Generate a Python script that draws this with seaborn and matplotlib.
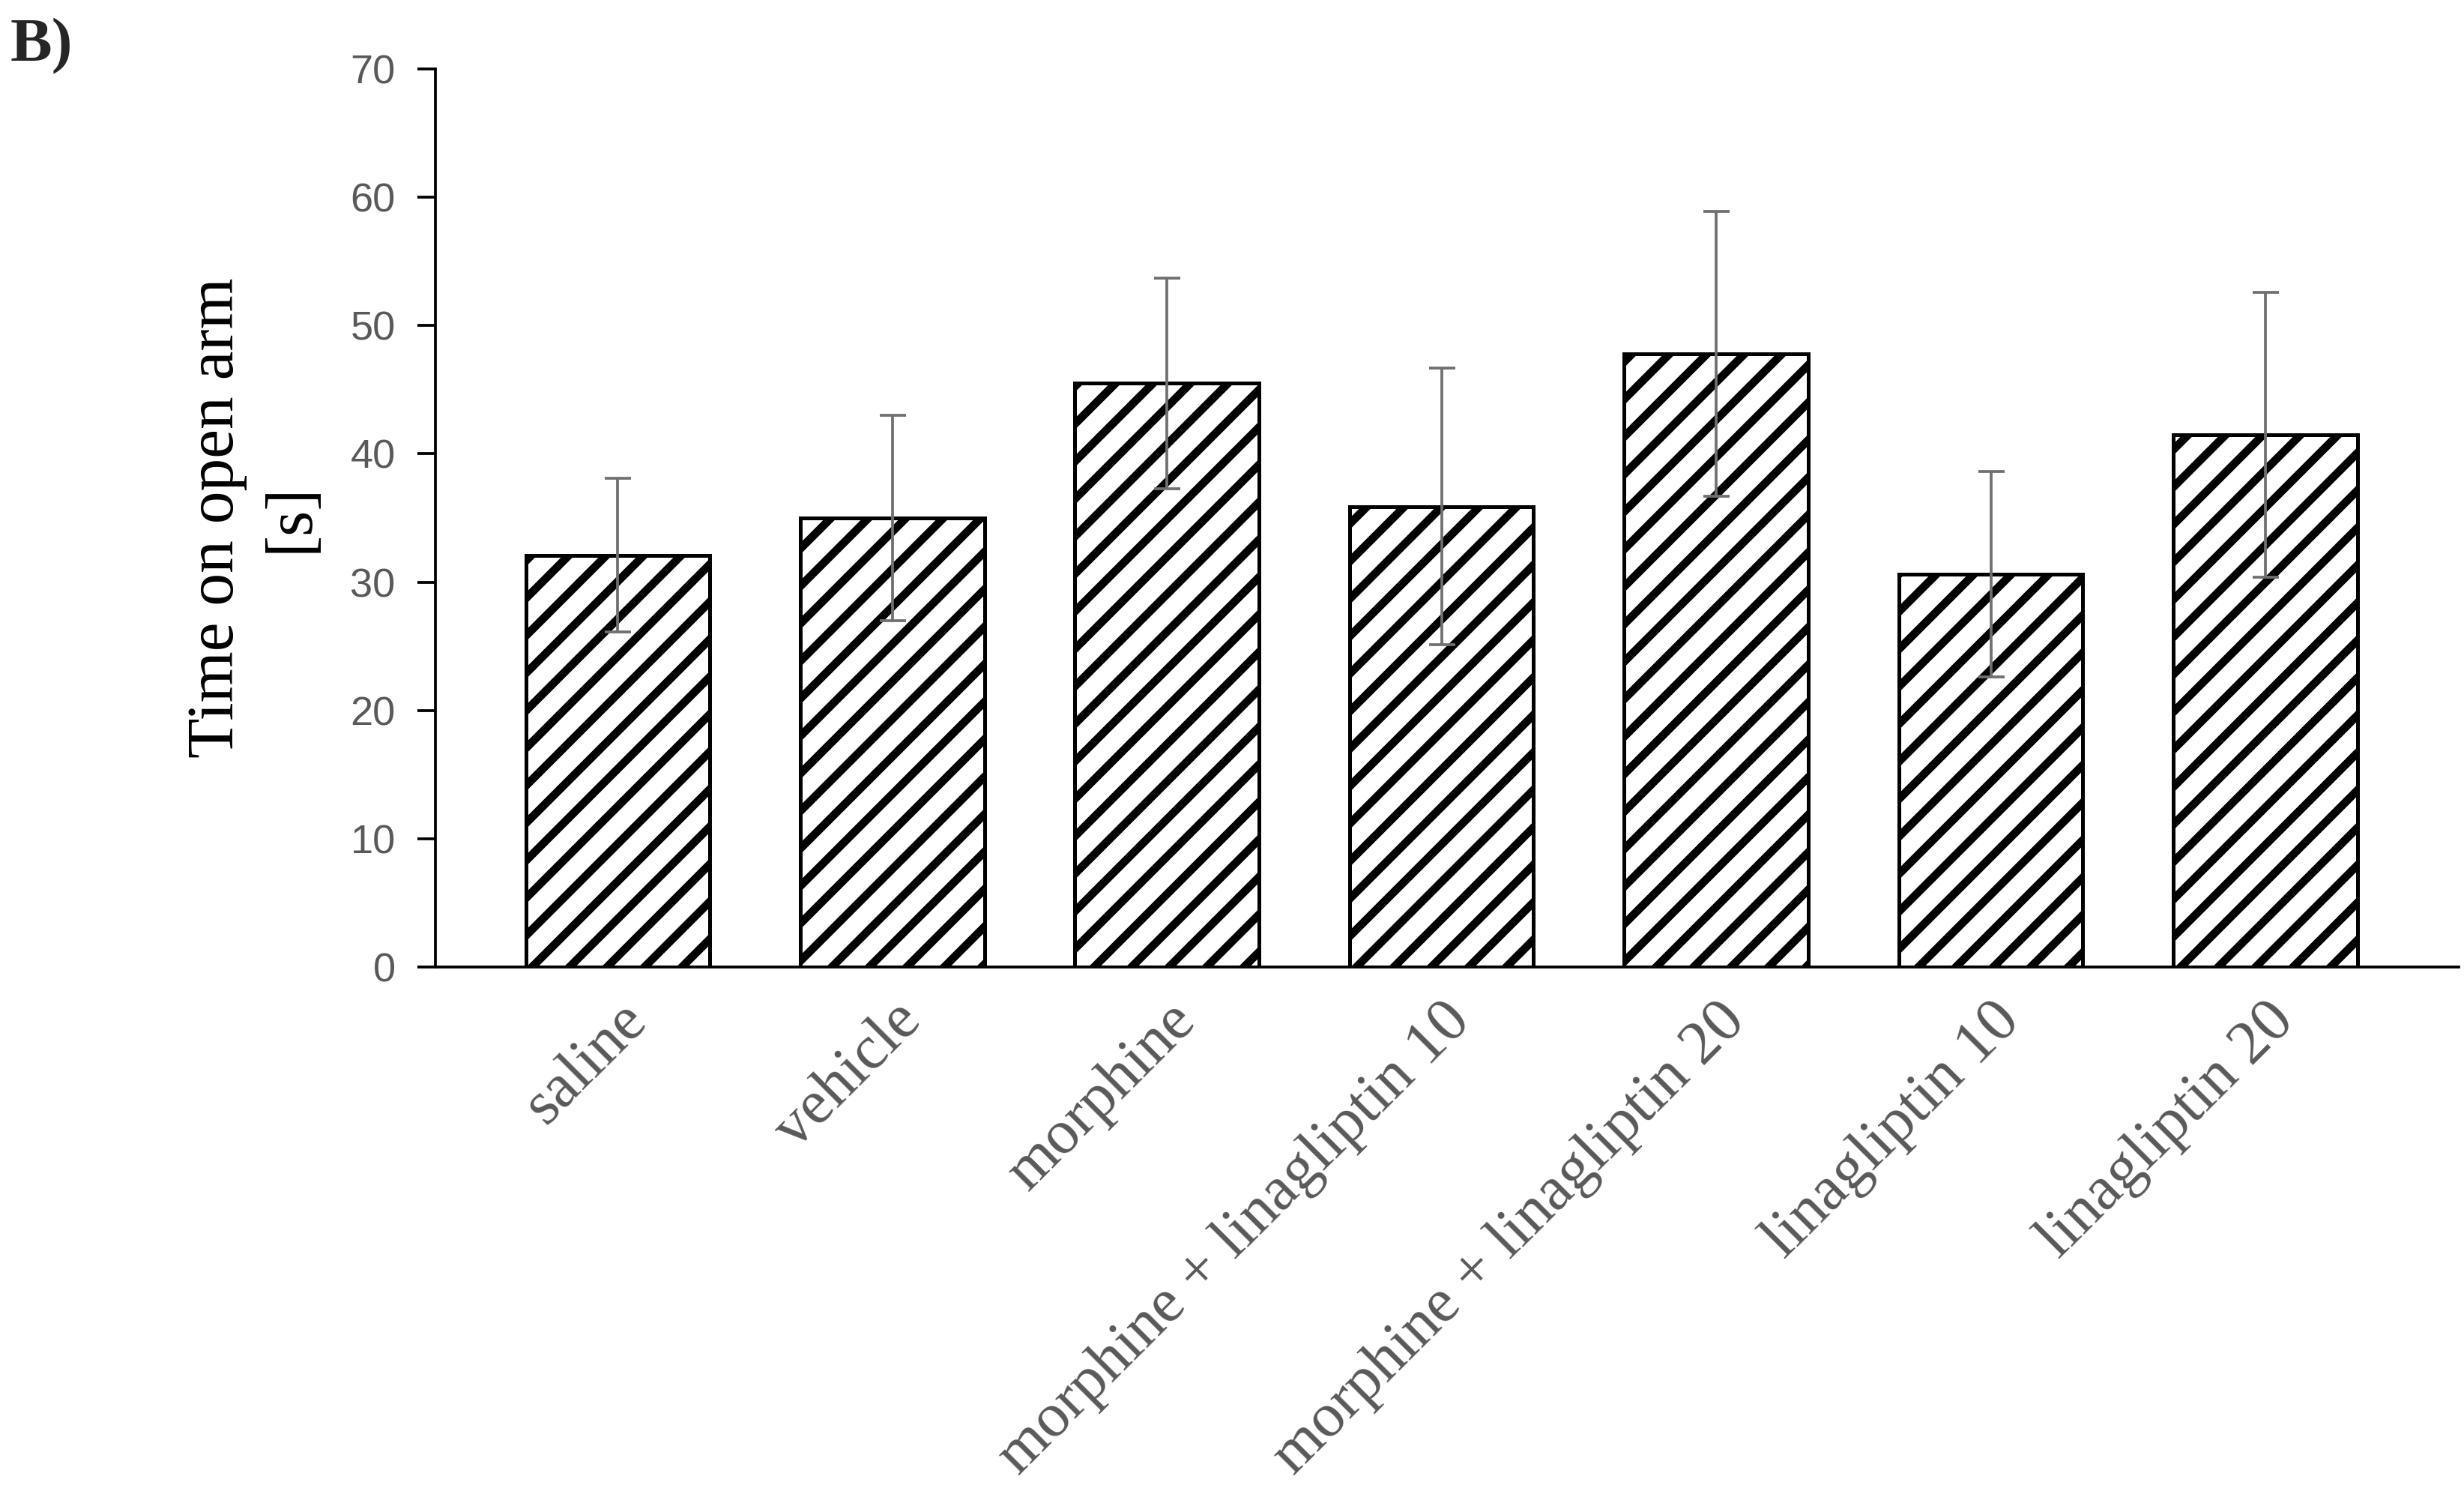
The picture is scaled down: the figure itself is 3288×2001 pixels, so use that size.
## Bar chart: time on open arm per treatment group, hatched bars with SD error bars
import matplotlib
matplotlib.use("Agg")
import matplotlib.pyplot as plt
import seaborn as sns
import pandas as pd

## Values
groups = ["saline", "vehicle", "morphine", "morphine + linagliptin 10",
          "morphine + linagliptin 20", "linagliptin 10", "linagliptin 20"]
means = [32.1, 35.0, 45.5, 35.9, 47.8, 30.6, 41.5]
errors = [6.0, 8.0, 8.2, 10.8, 11.1, 8.0, 11.1]
y_ticks = [0, 10, 20, 30, 40, 50, 60, 70]

sns.set_style("ticks")
plt.rcParams["hatch.linewidth"] = 2.6
plt.rcParams["hatch.color"] = "#1f1f1f"

df = pd.DataFrame({"group": groups, "time": means})

fig = plt.figure(figsize=(10.96, 6.67), dpi=300)
ax = fig.add_axes([0.1767, 0.3553, 0.8213, 0.5987])

sns.barplot(data=df, x="group", y="time", color="white", saturation=1,
            edgecolor="black", linewidth=1.2, hatch="//", width=0.67,
            errorbar=None, ax=ax)
# error bars drawn on top of the bars (lower whisker visible through hatch)
ax.errorbar(range(len(groups)), means, yerr=errors, fmt="none",
            ecolor="#707070", elinewidth=0.9, capsize=4.2, capthick=0.9, zorder=5)

ax.set_ylim(0, 70)
ax.set_yticks(y_ticks)
ax.set_xlim(-0.664, 6.705)
sns.despine(ax=ax)
for s in ["left", "bottom"]:
    ax.spines[s].set_linewidth(0.9)
    ax.spines[s].set_color("black")

ax.tick_params(axis="y", length=5.8, width=0.9, color="black", pad=7,
               labelsize=13, labelcolor="#595959")
ax.tick_params(axis="x", length=0, pad=8)
for lbl in ax.get_yticklabels():
    lbl.set_family("Liberation Sans")
ax.set_xticks(range(len(groups)))
ax.set_xticklabels(groups, rotation=45, ha="right", rotation_mode="anchor",
                   fontsize=20, family="Liberation Serif", color="#595959")

ax.set_xlabel("")
ax.set_ylabel("Time on open arm\n[s]", fontsize=21, family="Liberation Serif",
              color="black", labelpad=9, linespacing=1.3)

fig.text(0.004, 0.988, "B)", fontsize=20, weight="bold", family="Liberation Serif",
         va="top", ha="left")

plt.savefig("out.png", dpi=300)
